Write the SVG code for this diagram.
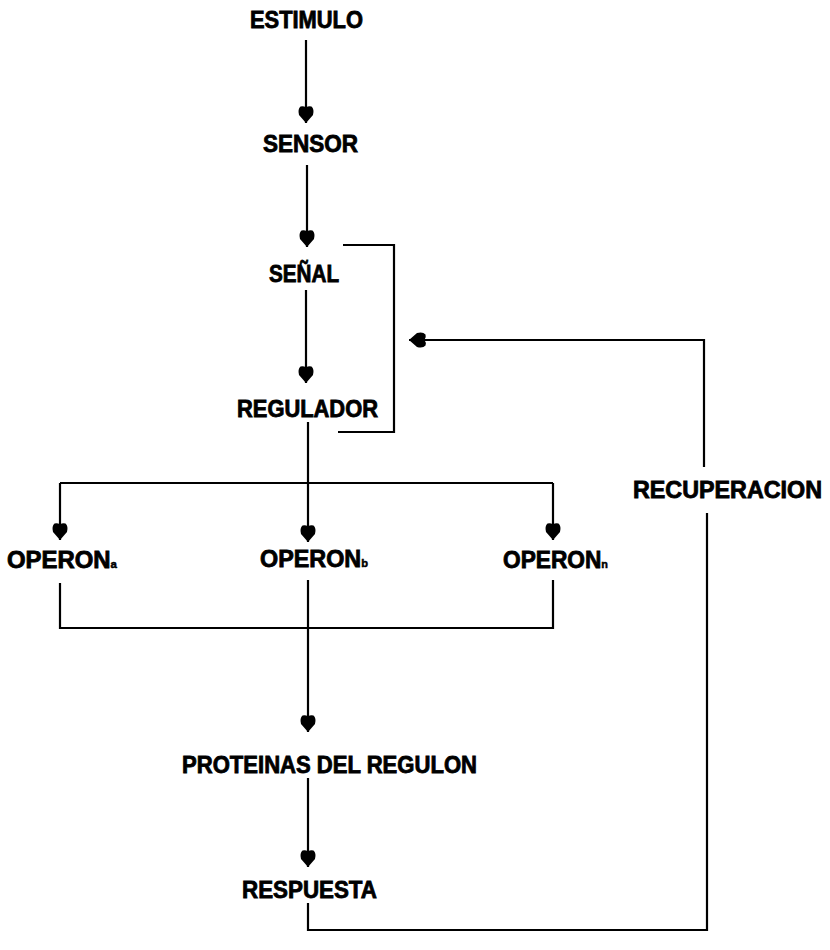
<svg xmlns="http://www.w3.org/2000/svg" width="830" height="950" viewBox="0 0 830 950">
<style>
  .lbl { font-family: "Liberation Sans", Arial, sans-serif; font-weight: bold; font-size: 23px; fill: #000; stroke: #000; stroke-width: 0.8; }
  .sub { font-size: 11px; stroke-width: 0.5; }
  .ln { fill: none; stroke: #000; stroke-width: 2.2; stroke-linejoin: miter; stroke-linecap: butt; }
</style>
<defs>
  <marker id="ah" markerUnits="userSpaceOnUse" viewBox="-19 -9 21 18" refX="0" refY="0" markerWidth="21" markerHeight="18" orient="auto">
    <path d="M0,0 L-8,-7 Q-14,-8.5 -16.5,-5.5 Q-17.5,-2.5 -15.5,0 Q-17.5,2.5 -16.5,5.5 Q-14,8.5 -8,7 Z" fill="#000"/>
  </marker>
</defs>
<rect width="830" height="950" fill="#fff"/>
<g id="connectors">
  <path class="ln" d="M306,40 V123" marker-end="url(#ah)"/>
  <path class="ln" d="M307,165 V247" marker-end="url(#ah)"/>
  <path class="ln" d="M306,290 V383" marker-end="url(#ah)"/>
  <path class="ln" d="M343,245 H394 V432 H338"/>
  <path class="ln" d="M308,422 V483"/>
  <path class="ln" d="M60,483 H553"/>
  <path class="ln" d="M60,483 V540" marker-end="url(#ah)"/>
  <path class="ln" d="M308,483 V542" marker-end="url(#ah)"/>
  <path class="ln" d="M553,483 V540" marker-end="url(#ah)"/>
  <path class="ln" d="M60,583 V628 H553 V580"/>
  <path class="ln" d="M308,580 V732" marker-end="url(#ah)"/>
  <path class="ln" d="M308,778 V867" marker-end="url(#ah)"/>
  <path class="ln" d="M308,903 V930 H707 V513"/>
  <path class="ln" d="M704,467 V340 H409" marker-end="url(#ah)"/>
</g>
<g id="estimulo"><text class="lbl" x="250" y="28" textLength="113" lengthAdjust="spacingAndGlyphs">ESTIMULO</text></g>
<g id="sensor"><text class="lbl" x="263" y="152" textLength="95" lengthAdjust="spacingAndGlyphs">SENSOR</text></g>
<g id="senal"><text class="lbl" x="269" y="282" textLength="70" lengthAdjust="spacingAndGlyphs">SEÑAL</text></g>
<g id="regulador"><text class="lbl" x="237" y="417" textLength="141" lengthAdjust="spacingAndGlyphs">REGULADOR</text></g>
<g id="operon-a"><text class="lbl" x="7" y="568" textLength="110" lengthAdjust="spacingAndGlyphs">OPERON<tspan class="sub">a</tspan></text></g>
<g id="operon-b"><text class="lbl" x="260" y="567" textLength="108" lengthAdjust="spacingAndGlyphs">OPERON<tspan class="sub">b</tspan></text></g>
<g id="operon-n"><text class="lbl" x="503" y="568" textLength="105" lengthAdjust="spacingAndGlyphs">OPERON<tspan class="sub">n</tspan></text></g>
<g id="recuperacion"><text class="lbl" x="633" y="498" textLength="189" lengthAdjust="spacingAndGlyphs">RECUPERACION</text></g>
<g id="proteinas"><text class="lbl" x="182" y="773" textLength="295" lengthAdjust="spacingAndGlyphs">PROTEINAS  DEL  REGULON</text></g>
<g id="respuesta"><text class="lbl" x="242" y="898" textLength="135" lengthAdjust="spacingAndGlyphs">RESPUESTA</text></g>
</svg>
